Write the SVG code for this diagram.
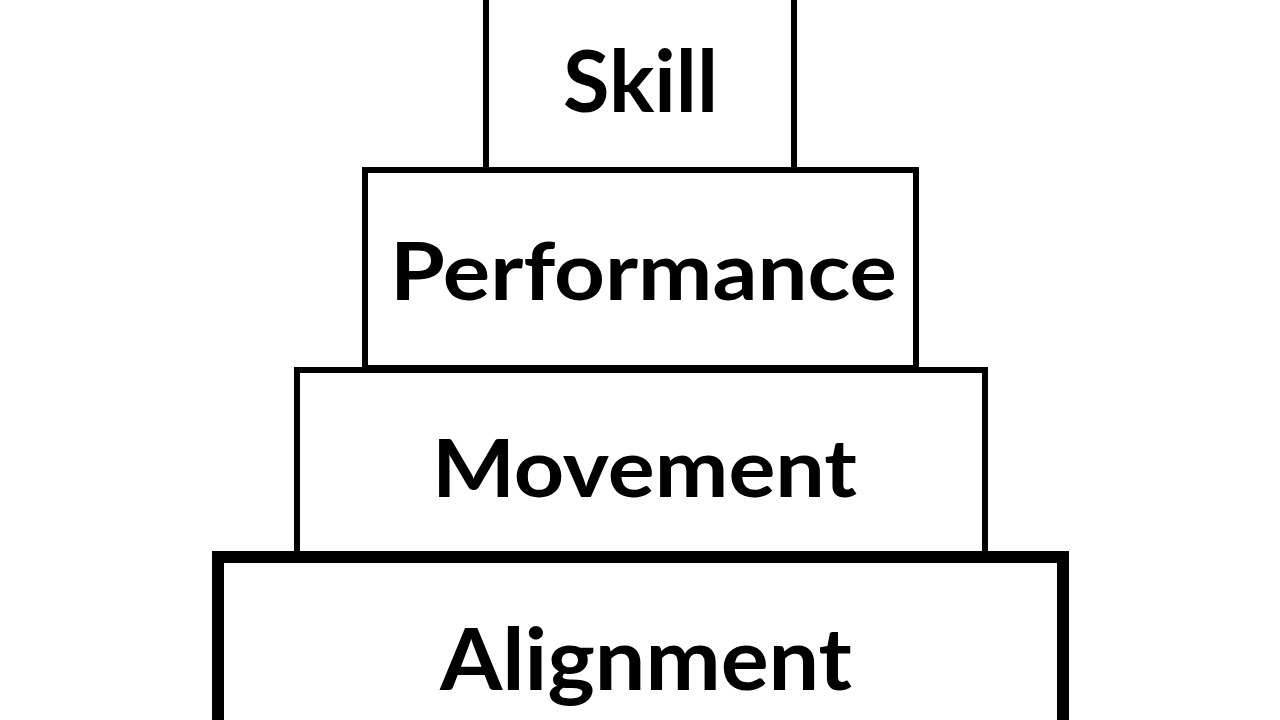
<svg xmlns="http://www.w3.org/2000/svg" width="1280" height="720" viewBox="0 0 1280 720">
<style>
.box{fill:#fff;stroke:#000;stroke-width:6}
.lbl{font-family:Lato,"Open Sans","Liberation Sans",sans-serif;font-weight:bold;fill:#000;text-anchor:start}
</style>
<rect width="1280" height="720" fill="#fff"/>
<g id="skill">
<rect class="box" x="486" y="-20" width="308" height="190"/>
<text class="lbl" x="563" y="112" font-size="86" textLength="155" lengthAdjust="spacingAndGlyphs">Skill</text>
</g>
<g id="performance">
<rect class="box" x="365" y="170" width="551" height="198"/>
<text class="lbl" x="390" y="300" font-size="80" textLength="507" lengthAdjust="spacingAndGlyphs">Performance</text>
</g>
<g id="movement">
<rect class="box" x="297" y="370" width="688" height="184"/>
<text class="lbl" x="432" y="497" font-size="80" textLength="425" lengthAdjust="spacingAndGlyphs">Movement</text>
</g>
<g id="alignment">
<rect class="box" x="218" y="557" width="845" height="200" style="stroke-width:12"/>
<text class="lbl" x="440" y="690" font-size="86" textLength="412" lengthAdjust="spacingAndGlyphs">Alignment</text>
</g>
<g id="connectors"></g>
</svg>
